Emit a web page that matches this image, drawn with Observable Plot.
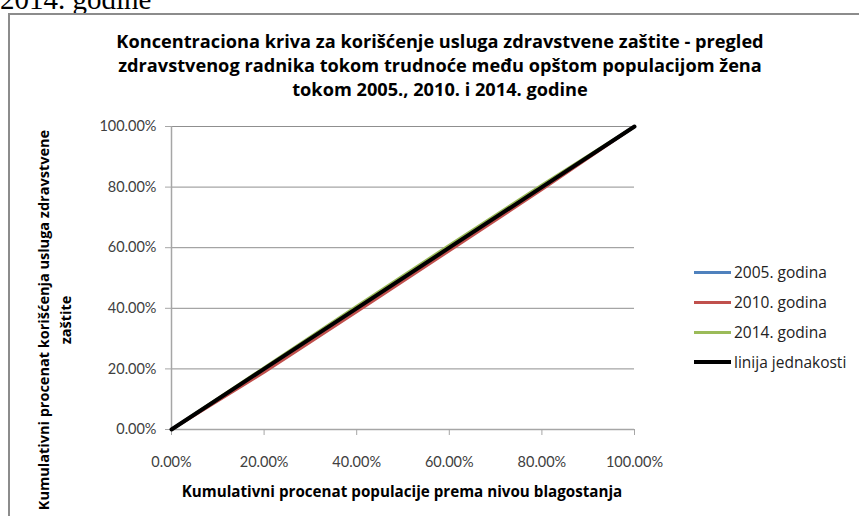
<!DOCTYPE html>
<html>
<head>
<meta charset="utf-8">
<script src="https://cdn.jsdelivr.net/npm/d3@7"></script>
<script src="https://cdn.jsdelivr.net/npm/@observablehq/plot@0.6"></script>
<style>
  body { margin: 0; background: #fff; }
  #wrap { position: relative; width: 859px; height: 516px; overflow: hidden; font-family: "Open Sans", Lato, sans-serif; }
  #above { position: absolute; left: 0; top: -17px; font-family: "Liberation Serif", "Times New Roman", serif; font-size: 29px; color: #000; white-space: nowrap; }
  #frame { position: absolute; left: 8px; top: 13px; width: 900px; height: 600px; border: 2px solid #8c8c8c; box-sizing: border-box; }
  #title { position: absolute; left: 20px; width: 840px; top: 29px; text-align: center; font-weight: bold; font-size: 18.2px; line-height: 24px; color: #000; }
  #xlabel { position: absolute; left: 402px; top: 481px; transform: translateX(-50%); font-weight: bold; font-size: 15.2px; white-space: nowrap; color: #000; }
  #ylabel { position: absolute; left: 55px; top: 320px; transform: translate(-50%, -50%) rotate(-90deg); font-weight: bold; font-size: 14.5px; line-height: 22px; white-space: nowrap; text-align: center; color: #000; }
  #legend { position: absolute; left: 694px; top: 257px; font-size: 15.5px; color: #222; }
  .li { display: flex; align-items: center; height: 30px; }
  .sw { width: 37px; height: 3px; margin-right: 3px; }
  svg { position: absolute; left: 0; top: 0; }
</style>
</head>
<body>
<div id="wrap">
  <div id="above">2014. godine</div>
  <div id="frame"></div>
  <div id="title"></div>
  <div id="xlabel"></div>
  <div id="ylabel"></div>
  <div id="legend"></div>
</div>
<script>
const titleLines = [
  "Koncentraciona kriva za korišćenje usluga zdravstvene zaštite - pregled",
  "zdravstvenog radnika tokom trudnoće među opštom populacijom žena",
  "tokom 2005., 2010. i 2014. godine"
];
const xTitle = "Kumulativni procenat populacije prema nivou blagostanja";
const yTitleLines = ["Kumulativni procenat korišćenja usluga zdravstvene", "zaštite"];

const xTicks = [0, 20, 40, 60, 80, 100];
const yTicks = [0, 20, 40, 60, 80, 100];

const popShare = [0, 20, 40, 60, 80, 100];
const series2005 = [0, 19.6, 39.6, 59.7, 79.8, 100];
const series2010 = [0, 18.9, 38.9, 59.0, 79.2, 100];
const series2014 = [0, 20.4, 40.7, 60.8, 80.7, 100];
const equality = [0, 20, 40, 60, 80, 100];

const seriesNames = ["2005. godina", "2010. godina", "2014. godina", "linija jednakosti"];
const seriesColors = ["#4f81bd", "#c0504d", "#9bbb59", "#000000"];
const seriesWidths = [3, 3, 3, 4];
const seriesValues = [series2005, series2010, series2014, equality];

const rows = [];
seriesValues.forEach((vals, i) => {
  vals.forEach((v, j) => rows.push({series: seriesNames[i], x: popShare[j], y: v}));
});

const fmt = d => d.toFixed(2) + "%";

const marks = [
  Plot.gridY(yTicks, {stroke: "#8f8f8f", strokeOpacity: 1, strokeWidth: 1}),
  Plot.ruleX([0], {stroke: "#a6a6a6", strokeWidth: 1.5}),
  Plot.ruleY([0], {stroke: "#a6a6a6", strokeWidth: 1.5}),
  Plot.axisY(yTicks, {tickFormat: fmt, tickSize: 6, tickPadding: 9, stroke: "#a6a6a6", fill: "#404040", fontSize: 14.5, fontFamily: "Lato, sans-serif", label: null}),
  Plot.axisX(xTicks, {tickFormat: fmt, tickSize: 6, tickPadding: 21, stroke: "#a6a6a6", fill: "#404040", fontSize: 14.5, fontFamily: "Lato, sans-serif", label: null})
];
seriesNames.forEach((name, i) => {
  marks.push(Plot.line(rows.filter(r => r.series === name), {
    x: "x", y: "y", stroke: seriesColors[i], strokeWidth: seriesWidths[i]
  }));
});

const chart = Plot.plot({
  width: 859,
  height: 516,
  marginLeft: 171,
  marginRight: 225,
  marginTop: 126,
  marginBottom: 87,
  style: {background: "transparent", fontFamily: "Lato, sans-serif", overflow: "visible"},
  x: {domain: [0, 100]},
  y: {domain: [0, 100]},
  marks
});
document.getElementById("wrap").appendChild(chart);

document.getElementById("title").innerHTML = titleLines.join("<br>");
document.getElementById("xlabel").textContent = xTitle;
document.getElementById("ylabel").innerHTML = yTitleLines.join("<br>");
const leg = document.getElementById("legend");
seriesNames.forEach((name, i) => {
  const d = document.createElement("div");
  d.className = "li";
  d.innerHTML = `<div class="sw" style="background:${seriesColors[i]};height:${seriesWidths[i]}px"></div><span>${name}</span>`;
  leg.appendChild(d);
});
</script>
</body>
</html>
